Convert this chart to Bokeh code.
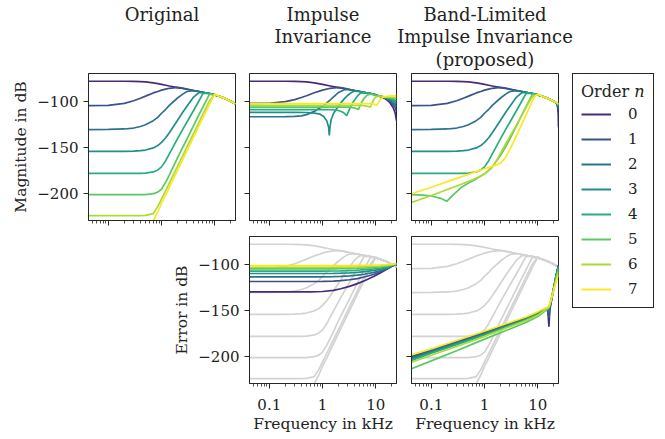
from bokeh.plotting import figure
from bokeh.layouts import row, column
from bokeh.models import Range1d, FixedTicker, Label, Spacer
from bokeh.embed import file_html
from bokeh.resources import INLINE

# ---------------- data ----------------
ORDERS = [0, 1, 2, 3, 4, 5, 6, 7]
COLORS = ["#472B7A", "#3B518A", "#2C718E", "#208F8C", "#27AD80", "#5BC862", "#AADB32", "#FDE724"]

TITLES = [["Original"], ["Impulse", "Invariance"], ["Band-Limited", "Impulse Invariance", "(proposed)"]]
X_MAJOR = [0.1, 1, 10]
X_MINOR = [0.05, 0.06, 0.07, 0.08, 0.09, 0.2, 0.3, 0.4, 0.5, 0.6, 0.7, 0.8, 0.9,
           2, 3, 4, 5, 6, 7, 8, 9, 20]
X_LABELS = {0.1: "0.1", 1: "1", 10: "10"}
Y_TICKS = [-200, -150, -100]
Y_LABELS = {-200: "\u2212200", -150: "\u2212150", -100: "\u2212100"}

# Original (kHz, dB)
F_ORIG = [0.0425, 0.1, 0.2, 0.3, 0.4, 0.5, 0.7, 0.85, 1.0, 1.2, 1.4, 2.0, 2.5, 3.0, 4.0, 5.0, 6.0,
          7.0, 8.0, 10.0, 12.0, 15.0, 18.0, 21.0, 24.5]
ORIG_DB = [
    [-78.4, -78.4, -78.4, -78.5, -78.7, -79.1, -80.2, -81.0, -81.8, -82.7, -83.5, -85.3, -86.2, -87.0, -88.4, -89.5, -90.4, -91.1, -91.8, -93.2, -94.6, -96.6, -98.6, -100.7, -103.0],
    [-104.8, -104.4, -102.3, -99.5, -96.8, -94.5, -91.0, -89.4, -88.0, -86.9, -86.0, -85.0, -85.9, -86.9, -88.4, -89.5, -90.4, -91.1, -91.8, -93.2, -94.6, -96.6, -98.6, -100.7, -103.0],
    [-130.6, -130.5, -130.0, -129.0, -127.3, -125.5, -121.0, -117.5, -113.0, -108.7, -104.5, -96.5, -92.3, -89.5, -88.5, -89.5, -90.4, -91.1, -91.8, -93.2, -94.6, -96.6, -98.6, -100.7, -103.0],
    [-154.3, -154.3, -154.2, -154.0, -153.5, -152.8, -150.5, -148.0, -144.5, -139.5, -134.0, -120.5, -112.0, -105.5, -95.5, -90.8, -90.5, -91.1, -91.8, -93.2, -94.6, -96.6, -98.6, -100.7, -103.0],
    [-178.0, -178.0, -178.0, -178.0, -178.0, -177.8, -176.5, -174.3, -171.0, -164.3, -157.0, -140.5, -130.5, -122.5, -110.0, -100.0, -91.8, -91.2, -91.8, -93.2, -94.6, -96.6, -98.6, -100.7, -103.0],
    [-201.0, -201.0, -201.0, -201.0, -201.0, -201.0, -200.0, -198.3, -195.0, -187.5, -180.0, -161.0, -150.0, -141.0, -126.5, -115.0, -106.0, -98.6, -92.3, -93.2, -94.6, -96.6, -98.6, -100.7, -103.0],
    [-223.7, -223.7, -223.7, -223.7, -223.7, -223.5, -221.5, -214.0, -205.5, -196.8, -188.5, -170.5, -159.0, -149.5, -135.0, -123.3, -114.0, -106.0, -99.3, -92.5, -94.6, -96.6, -98.6, -100.7, -103.0],
    [-248.0, -248.0, -248.0, -248.0, -248.0, -246.0, -229.0, -219.8, -210.3, -201.5, -193.1, -174.7, -163.1, -153.7, -138.8, -127.3, -117.8, -109.9, -102.9, -92.3, -94.6, -96.6, -98.6, -100.7, -103.0],
]

# Impulse invariance (per-order frequency lists)
F_II_A = [0.0425, 0.1, 0.2, 0.3, 0.4, 0.5, 0.7, 1.0, 1.4, 2.0, 2.5, 3.0, 4.0, 5.0, 6.0, 7.0, 8.0,
          10.0, 12.0, 15.0, 18.0, 21.0, 23.0, 24.5]
II_FREQ = [
    F_II_A,
    F_II_A,
    F_II_A,
    [0.0425, 0.1, 0.3, 0.5, 0.7, 0.9, 1.05, 1.2, 1.3, 1.34, 1.38, 1.45, 1.6, 2.0, 2.5, 3.0, 3.5, 4.0, 5.0, 6.0, 7.0, 8.0, 10.0, 12.0, 15.0, 18.0, 21.0, 23.0, 24.5],
    [0.0425, 0.1, 0.5, 1.0, 1.5, 1.9, 2.2, 2.5, 2.7, 2.85, 3.0, 3.3, 3.8, 4.5, 5.1, 6.0, 7.0, 8.0, 10.0, 12.0, 15.0, 18.0, 21.0, 23.0, 24.5],
    [0.0425, 0.1, 0.5, 1.0, 2.0, 3.0, 3.6, 4.1, 4.5, 4.7, 5.0, 5.5, 6.0, 6.8, 7.5, 8.0, 10.0, 12.0, 15.0, 18.0, 21.0, 23.0, 24.5],
    [0.0425, 0.1, 1.0, 3.0, 5.0, 6.0, 6.8, 7.4, 7.9, 8.4, 9.0, 9.8, 11.0, 12.0, 15.0, 18.0, 21.0, 23.0, 24.5],
    [0.0425, 0.1, 1.0, 5.0, 8.0, 9.0, 9.8, 10.5, 11.2, 12.0, 13.0, 14.0, 16.0, 18.0, 21.0, 24.5],
]
II_DB = [
    [-78.4, -78.4, -78.4, -78.5, -78.7, -79.1, -80.2, -81.8, -83.5, -85.3, -86.2, -87.0, -88.4, -89.5, -90.4, -91.1, -91.8, -93.2, -94.8, -97.2, -100.8, -106.5, -112.0, -121.0],
    [-102.4, -102.2, -100.5, -98.3, -96.0, -94.0, -90.8, -88.0, -86.0, -85.0, -85.9, -86.9, -88.4, -89.5, -90.4, -91.1, -91.8, -93.2, -94.6, -96.8, -99.5, -103.5, -106.5, -111.0],
    [-116.8, -116.8, -116.7, -116.4, -115.8, -114.5, -111.0, -105.5, -98.5, -90.5, -87.8, -87.3, -88.4, -89.5, -90.4, -91.1, -91.8, -93.2, -94.6, -96.5, -98.8, -101.5, -103.5, -106.0],
    [-112.0, -112.0, -112.0, -112.2, -112.8, -114.0, -116.5, -121.0, -128.0, -137.0, -128.0, -120.0, -113.5, -105.0, -98.0, -93.5, -90.5, -89.0, -89.5, -90.4, -91.1, -91.8, -93.2, -94.6, -96.2, -97.8, -99.5, -101.0, -102.5],
    [-109.0, -109.0, -109.0, -109.0, -109.2, -109.8, -110.8, -112.5, -114.3, -115.5, -112.5, -107.0, -100.5, -94.5, -91.5, -90.6, -91.1, -91.8, -93.2, -94.5, -95.8, -96.8, -98.0, -99.0, -100.0],
    [-106.3, -106.3, -106.3, -106.3, -106.3, -106.4, -106.8, -107.5, -108.4, -109.0, -105.5, -100.5, -97.0, -93.8, -92.5, -92.3, -93.5, -94.5, -95.5, -96.0, -96.7, -97.2, -97.5],
    [-104.4, -104.4, -104.4, -104.4, -104.5, -104.7, -105.2, -105.8, -106.3, -103.0, -99.0, -95.5, -94.8, -94.8, -95.2, -95.5, -95.8, -96.0, -96.0],
    [-102.5, -102.5, -102.5, -102.5, -102.6, -103.0, -103.6, -104.2, -101.5, -98.5, -96.5, -95.5, -94.8, -94.5, -94.2, -94.0],
]

# Band-limited impulse invariance
F_BL_A = [0.0425, 0.1, 0.2, 0.3, 0.4, 0.5, 0.7, 0.85, 1.0, 1.2, 1.4, 2.0, 2.5, 3.0, 4.0, 5.0, 6.0,
          7.0, 8.0, 10.0, 12.0, 15.0, 18.0, 21.0, 22.5, 23.5, 24.2, 24.5]
BL_FREQ = [
    F_BL_A, F_BL_A, F_BL_A, F_BL_A, F_BL_A,
    [0.0425, 0.07, 0.1, 0.15, 0.195, 0.25, 0.37, 0.5, 0.7, 1.0, 1.4, 2.0, 2.5, 3.0, 4.0, 5.0, 6.0, 7.0, 8.0, 10.0, 12.0, 15.0, 18.0, 21.0, 22.5, 23.5, 24.5],
    [0.0425, 0.1, 0.2, 0.4, 0.6, 0.85, 1.0, 1.4, 1.8, 2.5, 3.0, 4.0, 5.0, 6.0, 7.0, 8.0, 10.0, 12.0, 15.0, 18.0, 21.0, 22.5, 23.5, 24.5],
    [0.0425, 0.1, 0.2, 0.4, 0.77, 1.0, 1.4, 2.0, 2.4, 3.0, 4.0, 5.0, 6.0, 7.0, 8.0, 9.0, 10.0, 12.0, 15.0, 18.0, 21.0, 22.5, 23.5, 24.5],
]
BL_DB = [
    [-78.4, -78.4, -78.4, -78.5, -78.7, -79.1, -80.2, -81.0, -81.8, -82.7, -83.5, -85.3, -86.2, -87.0, -88.4, -89.5, -90.4, -91.1, -91.8, -93.2, -94.6, -96.6, -98.6, -100.7, -102.3, -106.0, -113.0, -128.0],
    [-104.8, -104.4, -102.3, -99.5, -96.8, -94.5, -91.0, -89.4, -88.0, -86.9, -86.0, -85.0, -85.9, -86.9, -88.4, -89.5, -90.4, -91.1, -91.8, -93.2, -94.6, -96.6, -98.6, -100.7, -102.0, -104.0, -107.0, -113.0],
    [-130.6, -130.5, -130.0, -129.0, -127.3, -125.5, -121.0, -117.5, -113.0, -108.7, -104.5, -96.5, -92.3, -89.5, -88.5, -89.5, -90.4, -91.1, -91.8, -93.2, -94.6, -96.6, -98.6, -100.7, -101.9, -103.2, -105.0, -108.5],
    [-154.3, -154.3, -154.2, -154.0, -153.5, -152.8, -150.5, -148.0, -144.5, -139.5, -134.0, -120.5, -112.0, -105.5, -95.5, -90.8, -90.5, -91.1, -91.8, -93.2, -94.6, -96.6, -98.6, -100.7, -101.8, -102.8, -104.0, -106.0],
    [-178.0, -178.0, -178.0, -178.0, -178.0, -177.8, -176.5, -174.3, -171.0, -164.3, -157.0, -140.5, -130.5, -122.5, -110.0, -100.0, -91.8, -91.2, -91.8, -93.2, -94.6, -96.6, -98.6, -100.7, -101.8, -102.7, -103.5, -104.5],
    [-201.0, -201.5, -202.5, -205.0, -208.3, -202.0, -193.0, -188.5, -184.0, -178.5, -171.0, -158.5, -149.0, -140.6, -126.3, -115.0, -106.0, -98.6, -92.3, -93.2, -94.6, -96.6, -98.6, -100.7, -101.8, -102.8, -104.0],
    [-209.5, -202.0, -195.5, -189.0, -185.0, -181.0, -178.5, -171.5, -161.0, -146.0, -138.0, -125.5, -115.5, -107.0, -100.0, -95.0, -92.5, -94.6, -96.6, -98.6, -100.7, -101.6, -102.5, -103.5],
    [-200.0, -193.0, -187.0, -181.0, -175.3, -173.0, -170.5, -167.0, -162.0, -152.0, -137.0, -125.0, -115.0, -106.5, -99.0, -94.5, -92.5, -94.6, -96.6, -98.6, -100.5, -101.3, -102.0, -102.5],
]

# Error of impulse invariance
F_ERR_II = [0.0425, 0.1, 0.3, 0.6, 1.0, 1.6, 2.2, 3.2, 4.5, 6.3, 9.3, 12.6, 16.6, 20.0, 24.5]
ERR_II_DB = [
    [-130.0, -130.0, -130.0, -129.9, -129.5, -128.3, -126.5, -124.0, -121.0, -117.5, -113.0, -109.0, -105.0, -102.3, -99.5],
    [-118.7, -118.7, -118.7, -118.7, -118.6, -118.3, -117.8, -116.8, -115.5, -113.5, -110.8, -108.0, -104.8, -102.2, -99.5],
    [-113.7, -113.7, -113.7, -113.7, -113.7, -113.5, -113.2, -112.6, -111.8, -110.6, -108.8, -106.8, -104.3, -102.0, -99.5],
    [-110.0, -110.0, -110.0, -110.0, -110.0, -109.9, -109.7, -109.3, -108.7, -107.9, -106.6, -105.2, -103.5, -101.7, -99.5],
    [-107.4, -107.4, -107.4, -107.4, -107.4, -107.3, -107.2, -106.9, -106.5, -105.9, -105.0, -104.0, -102.8, -101.4, -99.5],
    [-105.0, -105.0, -105.0, -105.0, -105.0, -105.0, -104.9, -104.7, -104.4, -104.0, -103.4, -102.7, -101.8, -100.9, -99.5],
    [-103.3, -103.3, -103.3, -103.3, -103.3, -103.3, -103.2, -103.1, -102.9, -102.6, -102.2, -101.7, -101.0, -100.4, -99.5],
    [-101.5, -101.5, -101.5, -101.5, -101.5, -101.5, -101.5, -101.4, -101.3, -101.2, -101.0, -100.7, -100.3, -99.9, -99.5],
]

# Error of band-limited impulse invariance
F_ERR_BL = [0.0425, 0.1, 0.3, 1.0, 3.0, 6.0, 10.0, 14.0, 15.5, 16.2, 16.8, 18.0, 20.0, 22.0, 24.5]
ERR_BL_DB = [
    [-199.5, -192.5, -183.5, -173.5, -164.0, -158.0, -152.5, -147.5, -151.0, -167.5, -150.0, -140.0, -126.0, -113.0, -101.0],
    [-200.5, -193.5, -184.3, -174.3, -164.8, -158.7, -153.0, -148.0, -150.0, -158.0, -147.5, -139.0, -125.5, -113.0, -101.0],
    [-201.5, -194.3, -185.0, -175.0, -165.3, -159.2, -153.5, -148.3, -149.0, -152.0, -146.0, -138.5, -125.0, -113.0, -101.5],
    [-202.5, -195.0, -185.8, -175.7, -165.8, -159.6, -153.8, -148.6, -148.0, -148.5, -145.0, -138.0, -125.0, -113.5, -102.0],
    [-204.0, -196.3, -187.0, -176.5, -166.3, -160.0, -154.2, -148.8, -147.5, -146.5, -144.0, -137.5, -125.5, -114.5, -103.0],
    [-213.0, -204.5, -193.5, -181.0, -170.0, -163.0, -156.5, -150.0, -148.0, -146.5, -144.0, -137.0, -126.0, -115.5, -105.0],
    [-206.0, -198.5, -189.0, -178.0, -167.5, -161.0, -155.3, -149.0, -147.5, -146.0, -143.5, -137.0, -127.0, -117.5, -108.0],
    [-198.0, -191.5, -182.5, -172.5, -163.0, -157.0, -151.5, -147.0, -146.0, -145.0, -142.5, -137.0, -128.0, -119.5, -111.0],
]

# ---------------- styling ----------------
FONT = "DejaVu Serif"
INK = "#222222"
FRAME = "#262626"
X_START, X_END = 0.0425, 24.5
Y_START, Y_END = -229.0, -70.0
LW = 1.7


def make_fig(width, height, left, right, top, bottom, xlab=False, ylab=False,
             xlabel=None, ylabel=None):
    p = figure(width=width, height=height, x_axis_type="log",
               x_range=Range1d(X_START, X_END), y_range=Range1d(Y_START, Y_END),
               output_backend="svg", toolbar_location=None,
               min_border_left=left, min_border_right=right,
               min_border_top=top, min_border_bottom=bottom)
    p.grid.visible = False
    p.outline_line_color = FRAME
    p.outline_line_width = 1
    p.background_fill_color = "white"
    p.border_fill_color = "white"
    xa = p.xaxis[0]
    ya = p.yaxis[0]
    xa.ticker = FixedTicker(ticks=X_MAJOR, minor_ticks=X_MINOR)
    ya.ticker = FixedTicker(ticks=Y_TICKS, minor_ticks=[])
    for ax, show, labels in ((xa, xlab, X_LABELS), (ya, ylab, Y_LABELS)):
        ax.axis_line_color = FRAME
        ax.major_tick_line_color = FRAME
        ax.minor_tick_line_color = FRAME
        ax.minor_tick_line_width = 0.8
        ax.major_tick_in = 0
        ax.major_tick_out = 5
        ax.minor_tick_in = 0
        ax.minor_tick_out = 3
        ax.major_label_text_font = FONT
        ax.major_label_text_color = INK
        ax.axis_label_text_font = FONT
        ax.axis_label_text_font_style = "normal"
        ax.axis_label_text_color = INK
        ax.axis_label_text_font_size = "15.5px"
        if show:
            ax.major_label_overrides = labels
            ax.major_label_text_font_size = "15px"
        else:
            ax.major_label_overrides = {k: "" for k in labels}
            ax.major_label_text_font_size = "1px"
            ax.major_label_standoff = 0
    xa.major_label_standoff = 10 if xlab else 0
    ya.major_label_standoff = 5 if ylab else 0
    if xlabel:
        xa.axis_label = xlabel
        xa.axis_label_standoff = 2
    if ylabel:
        ya.axis_label = ylabel
        ya.axis_label_standoff = 4
    return p


# title strip across the full width (frame = whole canvas)
f_title = figure(width=657, height=72, x_range=Range1d(0, 1), y_range=Range1d(0, 1),
                 x_axis_location=None, y_axis_location=None, output_backend="svg",
                 toolbar_location=None, min_border_left=0, min_border_right=0,
                 min_border_top=0, min_border_bottom=0)
f_title.grid.visible = False
f_title.outline_line_color = None
TITLE_CENTERS = [161.5, 322.5, 484.5]
for cx, lines in zip(TITLE_CENTERS, TITLES):
    for i, t in enumerate(lines):
        f_title.add_layout(Label(x=cx, y=58.5 - 22.5 * i, x_units="screen", y_units="screen",
                                 text=t, text_align="center", text_baseline="middle",
                                 text_font=FONT, text_font_size="18px", text_color=INK))

# top row
f_orig = make_fig(242, 156, 88, 7, 1, 8, ylab=True, ylabel="Magnitude in dB")
f_ii = make_fig(162, 156, 7, 8, 1, 8)
f_bl = make_fig(161, 156, 7, 7, 1, 8)

for n in ORDERS:
    f_orig.line(F_ORIG, ORIG_DB[n], line_color=COLORS[n], line_width=LW)
    f_ii.line(II_FREQ[n], II_DB[n], line_color=COLORS[n], line_width=LW)
    f_bl.line(BL_FREQ[n], BL_DB[n], line_color=COLORS[n], line_width=LW)

# bottom row
f_eii = make_fig(234, 209, 79, 8, 8, 54, xlab=True, ylab=True,
                 xlabel="Frequency in kHz", ylabel="Error in dB")
f_ebl = make_fig(161, 209, 7, 7, 8, 54, xlab=True, xlabel="Frequency in kHz")
for f in (f_eii, f_ebl):
    for n in ORDERS:
        f.line(F_ORIG, ORIG_DB[n], line_color="#d3d3d3", line_width=LW)
for n in ORDERS:
    f_eii.line(F_ERR_II, ERR_II_DB[n], line_color=COLORS[n], line_width=LW)
for n in ORDERS:
    f_ebl.line(F_ERR_BL, ERR_BL_DB[n], line_color=COLORS[n], line_width=LW)

# legend panel
NAN = float("nan")
f_leg = figure(width=92, height=365, x_range=Range1d(0, 1), y_range=Range1d(0, 1),
               x_axis_location=None, y_axis_location=None, output_backend="svg",
               toolbar_location=None, min_border_left=7, min_border_right=0,
               min_border_top=1, min_border_bottom=0)
f_leg.grid.visible = False
f_leg.outline_line_color = None
for n in ORDERS:
    f_leg.line(x=[NAN], y=[NAN], line_color=COLORS[n], line_width=2, legend_label=str(n))
lg = f_leg.legend[0]
lg.location = "top_left"
lg.margin = 0
lg.title = "Order \U0001D45B"
lg.title_text_font = FONT
lg.title_text_font_size = "16px"
lg.title_text_font_style = "normal"
lg.title_text_color = INK
lg.title_standoff = 3
lg.label_text_font = FONT
lg.label_text_font_size = "15px"
lg.label_text_color = INK
lg.glyph_width = 30
lg.glyph_height = 20
lg.label_height = 20
lg.label_width = 12
lg.spacing = 5
lg.padding = 8
lg.label_standoff = 17
lg.border_line_color = FRAME
lg.border_line_width = 1
lg.border_line_alpha = 1
lg.background_fill_alpha = 1

layout = column(f_title,
                row(column(row(f_orig, f_ii, f_bl),
                           row(Spacer(width=170, height=209), f_eii, f_ebl)),
                    f_leg))

open("out.html", "w").write(file_html(layout, INLINE))
